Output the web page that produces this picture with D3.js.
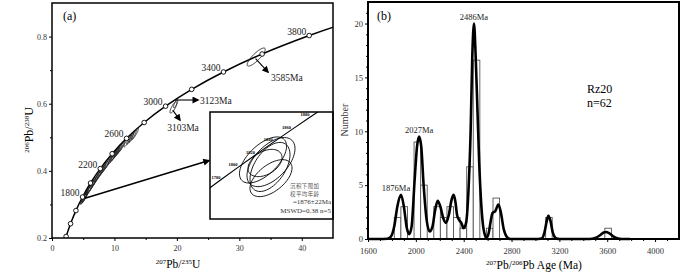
<!DOCTYPE html>
<html>
<head>
<meta charset="utf-8">
<script src="https://cdn.jsdelivr.net/npm/d3@7"></script>
<style>
  body { margin: 0; background: #fff; }
  svg { display: block; font-family: "Liberation Serif", "Times New Roman", serif; }
</style>
</head>
<body>
<div id="container"></div>
<script>
/* DATA */
// concordia nodes, 207Pb/235U and 206Pb/238U, every 200 Ma (plus the two ends)
const concAges = [1175, 1200, 1400, 1600, 1800, 2000, 2200, 2400, 2600, 2800, 3000, 3200, 3400, 3600, 3800, 3890];
const concX = [2.18, 2.26, 2.97, 3.83, 4.89, 6.17, 7.73, 9.63, 11.94, 14.76, 18.19, 22.37, 27.46, 33.65, 41.19, 45.1];
const concY = [0.200, 0.2046, 0.2426, 0.2817, 0.3221, 0.3638, 0.4067, 0.4511, 0.4968, 0.5440, 0.5926, 0.6428, 0.6946, 0.7480, 0.8030, 0.8283];
const concLabelAges = [1800, 2200, 2600, 3000, 3400, 3800];

// analysis ellipses: [207/235, 206/238, half-extent x, half-extent y, rho]
const zirconEllipses = [
  [5.05, 0.316, 0.50, 0.016, 0.92], [5.15, 0.319, 0.55, 0.017, 0.92], [5.25, 0.322, 0.50, 0.016, 0.92],
  [5.10, 0.321, 0.45, 0.015, 0.90], [5.30, 0.326, 0.50, 0.016, 0.92],
  [5.75, 0.338, 0.55, 0.017, 0.92], [6.00, 0.346, 0.55, 0.017, 0.92], [6.20, 0.351, 0.60, 0.018, 0.93],
  [6.40, 0.357, 0.55, 0.017, 0.92], [6.65, 0.364, 0.55, 0.017, 0.92], [6.90, 0.371, 0.55, 0.017, 0.92],
  [7.30, 0.382, 0.55, 0.017, 0.92], [7.55, 0.389, 0.60, 0.018, 0.93], [7.80, 0.396, 0.55, 0.017, 0.92],
  [8.10, 0.403, 0.55, 0.017, 0.92], [8.40, 0.410, 0.60, 0.018, 0.92], [8.70, 0.418, 0.55, 0.017, 0.92],
  [9.00, 0.425, 0.60, 0.018, 0.93],
  [9.60, 0.438, 0.60, 0.018, 0.93], [9.85, 0.444, 0.55, 0.017, 0.92], [10.1, 0.449, 0.60, 0.018, 0.93],
  [10.35, 0.455, 0.55, 0.017, 0.92], [10.6, 0.460, 0.60, 0.018, 0.93], [10.85, 0.466, 0.55, 0.017, 0.92],
  [11.1, 0.471, 0.55, 0.017, 0.92],
  [12.1, 0.489, 0.60, 0.018, 0.92], [12.5, 0.496, 0.55, 0.017, 0.92], [12.9, 0.503, 0.60, 0.018, 0.92],
  [13.3, 0.510, 0.55, 0.017, 0.92]
];
const oldEllipses = [
  [19.45, 0.589, 0.55, 0.017, 0.80], [19.80, 0.600, 0.35, 0.012, 0.80], [32.7, 0.739, 1.45, 0.027, 0.85]
];

// inset: concordia 1760-1900 Ma and the five youngest analyses
const insetAges = [1760, 1780, 1800, 1820, 1840, 1860, 1880, 1900];
const insetX = [4.6595, 4.7721, 4.8869, 5.0040, 5.1234, 5.2453, 5.3695, 5.4962];
const insetY = [0.31393, 0.31802, 0.32211, 0.32623, 0.33035, 0.33449, 0.33863, 0.34279];
const insetEllipses = [
  [5.048, 0.3243, 0.158, 0.0076, 0.60], [5.1015, 0.3236, 0.161, 0.0081, 0.55], [5.0948, 0.3220, 0.134, 0.0081, 0.50],
  [5.0613, 0.3233, 0.114, 0.0045, 0.40], [5.1015, 0.3183, 0.141, 0.0061, 0.55]
];

// histogram, 55 Ma bins (left edge, count)
const binWidth = 55;
const binStart = [1820, 1875, 1985, 2040, 2150, 2205, 2260, 2315, 2370, 2425, 2480, 2590, 2645, 3085, 3580];
const binCount = [2, 3, 9, 5, 3, 2, 3, 2, 1, 6.7, 16.6, 1, 3.8, 2, 1];

// probability density curve
const kdeAge = [1600, 1700, 1760, 1790, 1820, 1845, 1876, 1900, 1925, 1945, 1965, 1990, 2010, 2027, 2045, 2065, 2090, 2115,
  2140, 2160, 2183, 2205, 2230, 2252, 2275, 2300, 2316, 2330, 2345, 2360, 2380, 2400, 2420, 2440, 2458, 2472, 2486, 2500,
  2515, 2530, 2548, 2565, 2590, 2610, 2625, 2640, 2665, 2690, 2710, 2735, 2760, 2790, 3000, 3050, 3075, 3095, 3108, 3125,
  3145, 3175, 3200, 3450, 3500, 3540, 3570, 3590, 3615, 3650, 3690, 3720, 3790];
const kdeVal = [0, 0, 0.02, 0.2, 1.2, 3.0, 4.1, 3.0, 1.0, 0.45, 1.2, 5.5, 8.6, 9.5, 8.6, 5.0, 1.8, 0.7,
  1.2, 2.6, 3.55, 3.0, 1.9, 1.5, 2.2, 3.7, 4.1, 3.5, 2.2, 1.8, 1.5, 1.0, 1.5, 4.5, 10, 17, 20, 17,
  12, 7, 3, 1, 0.1, 0.6, 1.6, 2.4, 2.6, 3.2, 2.5, 0.9, 0.2, 0, 0, 0.05, 0.6, 1.7, 2.15, 1.7,
  0.6, 0.05, 0, 0, 0.1, 0.35, 0.6, 0.65, 0.55, 0.25, 0.05, 0, 0];
const peakLabels = ["1876Ma", "2027Ma", "2486Ma"];
const peakAges = [1876, 2027, 2486];
const peakVals = [4.1, 9.5, 20];

/* SVG */
const svg = d3.select("#container").append("svg")
  .attr("width", 700).attr("height", 273)
  .style("background", "#fff");

const defs = svg.append("defs");
defs.append("marker").attr("id", "arr")
  .attr("viewBox", "0 0 10 10").attr("refX", 8).attr("refY", 5)
  .attr("markerWidth", 8).attr("markerHeight", 7)
  .attr("markerUnits", "userSpaceOnUse").attr("orient", "auto")
  .append("path").attr("d", "M0,0L10,5L0,10Z").attr("fill", "#000");

function ellipsePath(e, xs, ys) {
  const [cx, cy, sx, sy, r] = e;
  const q = Math.sqrt(1 - r * r);
  const pts = d3.range(0, 73).map(i => {
    const t = i / 72 * 2 * Math.PI;
    return [xs(cx + sx * Math.cos(t)), ys(cy + sy * (r * Math.cos(t) + q * Math.sin(t)))];
  });
  return d3.line()(pts) + "Z";
}

/* ---------- (a) concordia ---------- */
const xL = d3.scaleLinear().domain([0, 45]).range([52, 333]);
const yL = d3.scaleLinear().domain([0.2, 0.9]).range([238, 3]);

defs.append("clipPath").attr("id", "clipL").append("rect")
  .attr("x", 52).attr("y", 3).attr("width", 281).attr("height", 235);

const gL = svg.append("g");
const plotL = gL.append("g").attr("clip-path", "url(#clipL)");

plotL.append("path")
  .datum(concAges.map((a, i) => [concX[i], concY[i]]))
  .attr("d", d3.line().x(d => xL(d[0])).y(d => yL(d[1])).curve(d3.curveCatmullRom))
  .attr("fill", "none").attr("stroke", "#000").attr("stroke-width", 1.5);

plotL.selectAll("path.zr")
  .data(zirconEllipses.concat(oldEllipses))
  .join("path").attr("class", "zr")
  .attr("d", d => ellipsePath(d, xL, yL))
  .attr("fill", "none").attr("stroke", "#222").attr("stroke-width", 0.9);

const nodes = concAges.map((a, i) => ({ age: a, x: concX[i], y: concY[i] }))
  .filter(d => d.age >= 1200 && d.age <= 3800);

plotL.selectAll("circle.node")
  .data(nodes).join("circle").attr("class", "node")
  .attr("cx", d => xL(d.x)).attr("cy", d => yL(d.y)).attr("r", 2.3)
  .attr("fill", "#fff").attr("stroke", "#000").attr("stroke-width", 0.9);

gL.selectAll("text.age")
  .data(nodes.filter(d => concLabelAges.includes(d.age)))
  .join("text").attr("class", "age")
  .attr("x", d => xL(d.x) - 3).attr("y", d => yL(d.y) - 1)
  .attr("text-anchor", "end").attr("font-size", 9.5).attr("fill", "#222")
  .text(d => d.age);

// callouts
const callouts = [
  { label: "3585Ma", from: [32.6, 0.734], to: [34.6, 0.694], dx: 3, dy: 8.5, anchor: "start" },
  { label: "3123Ma", from: [19.7, 0.611], to: [23.4, 0.611], dx: 2, dy: 3.5, anchor: "start" },
  { label: "3103Ma", from: [19.33, 0.581], to: [20.5, 0.551], dx: 3, dy: 11, anchor: "middle" }
];
callouts.forEach(c => {
  gL.append("line")
    .attr("x1", xL(c.from[0])).attr("y1", yL(c.from[1]))
    .attr("x2", xL(c.to[0])).attr("y2", yL(c.to[1]))
    .attr("stroke", "#000").attr("stroke-width", 1.1).attr("marker-end", "url(#arr)");
  gL.append("text")
    .attr("x", xL(c.to[0]) + c.dx).attr("y", yL(c.to[1]) + c.dy)
    .attr("text-anchor", c.anchor).attr("font-size", 9.5).attr("fill", "#222")
    .text(c.label);
});

// inset
const xI = d3.scaleLinear().domain([4.6924, 5.5173]).range([210, 333]);
const yI = d3.scaleLinear().domain([0.30482, 0.34013]).range([219, 112]);

gL.append("line")
  .attr("x1", xL(5.28)).attr("y1", yL(0.3185))
  .attr("x2", 209).attr("y2", yL(0.4307))
  .attr("stroke", "#000").attr("stroke-width", 1.5).attr("marker-end", "url(#arr)");

defs.append("clipPath").attr("id", "clipI").append("rect")
  .attr("x", 210).attr("y", 112).attr("width", 123).attr("height", 107);

gL.append("rect").attr("x", 210).attr("y", 112).attr("width", 123).attr("height", 107)
  .attr("fill", "#fff");
const gI = gL.append("g").attr("clip-path", "url(#clipI)");

gI.append("path")
  .datum(insetAges.map((a, i) => [insetX[i], insetY[i]]))
  .attr("d", d3.line().x(d => xI(d[0])).y(d => yI(d[1])).curve(d3.curveCatmullRom))
  .attr("fill", "none").attr("stroke", "#000").attr("stroke-width", 1.1);

gI.selectAll("path.iell").data(insetEllipses).join("path").attr("class", "iell")
  .attr("d", d => ellipsePath(d, xI, yI))
  .attr("fill", "none").attr("stroke", "#000").attr("stroke-width", 0.9);

gI.selectAll("text.iage")
  .data(insetAges.map((a, i) => ({ age: a, x: insetX[i], y: insetY[i] })).filter(d => d.age >= 1780 && d.age <= 1880))
  .join("text").attr("class", "iage")
  .attr("x", d => xI(d.x) - 1.5).attr("y", d => yI(d.y) - 0.5)
  .attr("text-anchor", "end").attr("font-size", 4.5).attr("font-weight", "bold")
  .text(d => d.age);

const insetNote = gI.append("g").attr("fill", "#333");
insetNote.append("text").attr("x", 290).attr("y", 188)
  .attr("font-size", 5.5).attr("font-family", "Noto Sans CJK SC").attr("letter-spacing", 0.4).attr("fill", "#555")
  .text("沉积下限加");
insetNote.append("text").attr("x", 290).attr("y", 195.5)
  .attr("font-size", 5.5).attr("font-family", "Noto Sans CJK SC").attr("letter-spacing", 0.4).attr("fill", "#555")
  .text("权平均年龄");
insetNote.append("text").attr("x", 331).attr("y", 203.5).attr("text-anchor", "end")
  .attr("font-size", 7).text("=1876±22Ma");
insetNote.append("text").attr("x", 331).attr("y", 213).attr("text-anchor", "end")
  .attr("font-size", 7).text("MSWD=0.38  n=5");

gL.append("rect").attr("x", 210).attr("y", 112).attr("width", 123).attr("height", 107)
  .attr("fill", "none").attr("stroke", "#000").attr("stroke-width", 1.5);

// axes (a)
gL.append("g").attr("transform", "translate(0,238)")
  .call(d3.axisBottom(xL).tickValues([0, 10, 20, 30, 40]).tickSize(3).tickPadding(4));
gL.append("g").attr("transform", "translate(0,238)")
  .call(d3.axisBottom(xL).tickValues([5, 15, 25, 35]).tickSize(2).tickFormat(""));
gL.append("g").attr("transform", "translate(52,0)")
  .call(d3.axisLeft(yL).tickValues([0.2, 0.4, 0.6, 0.8]).tickFormat(d3.format(".1f")).tickSize(3).tickPadding(2));
gL.append("g").attr("transform", "translate(52,0)")
  .call(d3.axisLeft(yL).tickValues([0.3, 0.5, 0.7]).tickSize(2).tickFormat(""));
gL.selectAll(".domain").remove();
gL.selectAll(".tick text").attr("font-family", "Liberation Serif").attr("font-size", 8).attr("fill", "#333");

gL.append("rect").attr("x", 52).attr("y", 3).attr("width", 281).attr("height", 235)
  .attr("fill", "none").attr("stroke", "#000").attr("stroke-width", 1.5);

gL.append("text").attr("x", 63).attr("y", 20).attr("font-size", 12).text("(a)");

const xtL = gL.append("text").attr("x", 178).attr("y", 268).attr("text-anchor", "middle").attr("font-size", 11.5);
xtL.append("tspan").attr("font-size", 7).attr("dy", -4).text("207");
xtL.append("tspan").attr("dy", 4).text("Pb/");
xtL.append("tspan").attr("font-size", 7).attr("dy", -4).text("235");
xtL.append("tspan").attr("dy", 4).text("U");

const ytL = gL.append("text").attr("transform", "translate(33,130) rotate(-90)")
  .attr("text-anchor", "middle").attr("font-size", 12);
ytL.append("tspan").attr("font-size", 7).attr("dy", -4).text("206");
ytL.append("tspan").attr("dy", 4).text("Pb/");
ytL.append("tspan").attr("font-size", 7).attr("dy", -4).text("238");
ytL.append("tspan").attr("dy", 4).text("U");

/* ---------- (b) histogram ---------- */
const xR = d3.scaleLinear().domain([1600, 4200]).range([368, 679]);
const yR = d3.scaleLinear().domain([0, 22]).range([239, 2]);
const gR = svg.append("g");

gR.selectAll("rect.bar")
  .data(binStart.map((s, i) => ({ s, n: binCount[i] })))
  .join("rect").attr("class", "bar")
  .attr("x", d => xR(d.s)).attr("width", d => xR(d.s + binWidth) - xR(d.s))
  .attr("y", d => yR(d.n)).attr("height", d => yR(0) - yR(d.n))
  .attr("fill", "#fff").attr("stroke", "#555").attr("stroke-width", 0.9);

gR.append("path")
  .datum(kdeAge.map((a, i) => [a, kdeVal[i]]))
  .attr("d", d3.line().x(d => xR(d[0])).y(d => yR(d[1])).curve(d3.curveMonotoneX))
  .attr("fill", "none").attr("stroke", "#000").attr("stroke-width", 2.6).attr("stroke-linejoin", "round");

gR.selectAll("text.peak")
  .data(peakLabels.map((l, i) => ({ l, a: peakAges[i], v: peakVals[i] })))
  .join("text").attr("class", "peak")
  .attr("x", d => xR(d.a) - (d.a === 1876 ? 5 : 0)).attr("y", d => yR(d.v) - 3.5)
  .attr("text-anchor", "middle").attr("font-size", 8.5).attr("fill", "#222")
  .text(d => d.l);

gR.append("g").attr("transform", "translate(0,239)")
  .call(d3.axisBottom(xR).tickValues(d3.range(1600, 4001, 400)).tickFormat(d3.format("d")).tickSize(3).tickPadding(6));
gR.append("g").attr("transform", "translate(0,239)")
  .call(d3.axisBottom(xR).tickValues(d3.range(1700, 4200, 100).filter(v => v % 400 !== 0)).tickSize(2).tickFormat(""));
gR.append("g").attr("transform", "translate(368,0)")
  .call(d3.axisLeft(yR).tickValues([0, 5, 10, 15, 20]).tickSize(3).tickPadding(2));
gR.append("g").attr("transform", "translate(368,0)")
  .call(d3.axisLeft(yR).tickValues(d3.range(1, 22).filter(v => v % 5 !== 0)).tickSize(2).tickFormat(""));
gR.selectAll(".domain").remove();
gR.selectAll(".tick text").attr("font-family", "Liberation Serif").attr("font-size", 8.5).attr("fill", "#333");

gR.append("rect").attr("x", 368).attr("y", 2).attr("width", 311).attr("height", 237)
  .attr("fill", "none").attr("stroke", "#000").attr("stroke-width", 2);

gR.append("text").attr("x", 377).attr("y", 20).attr("font-size", 12).text("(b)");
gR.append("text").attr("x", 587).attr("y", 93).attr("font-size", 12).text("Rz20");
gR.append("text").attr("x", 587).attr("y", 107).attr("font-size", 12).text("n=62");

gR.append("text").attr("transform", "translate(348,120) rotate(-90)")
  .attr("text-anchor", "middle").attr("font-size", 10).attr("fill", "#333").text("Number");

const xtR = gR.append("text").attr("x", 534).attr("y", 269).attr("text-anchor", "middle").attr("font-size", 11.5);
xtR.append("tspan").attr("font-size", 7).attr("dy", -4).text("207");
xtR.append("tspan").attr("dy", 4).text("Pb/");
xtR.append("tspan").attr("font-size", 7).attr("dy", -4).text("206");
xtR.append("tspan").attr("dy", 4).text("Pb Age (Ma)");
</script>
</body>
</html>
